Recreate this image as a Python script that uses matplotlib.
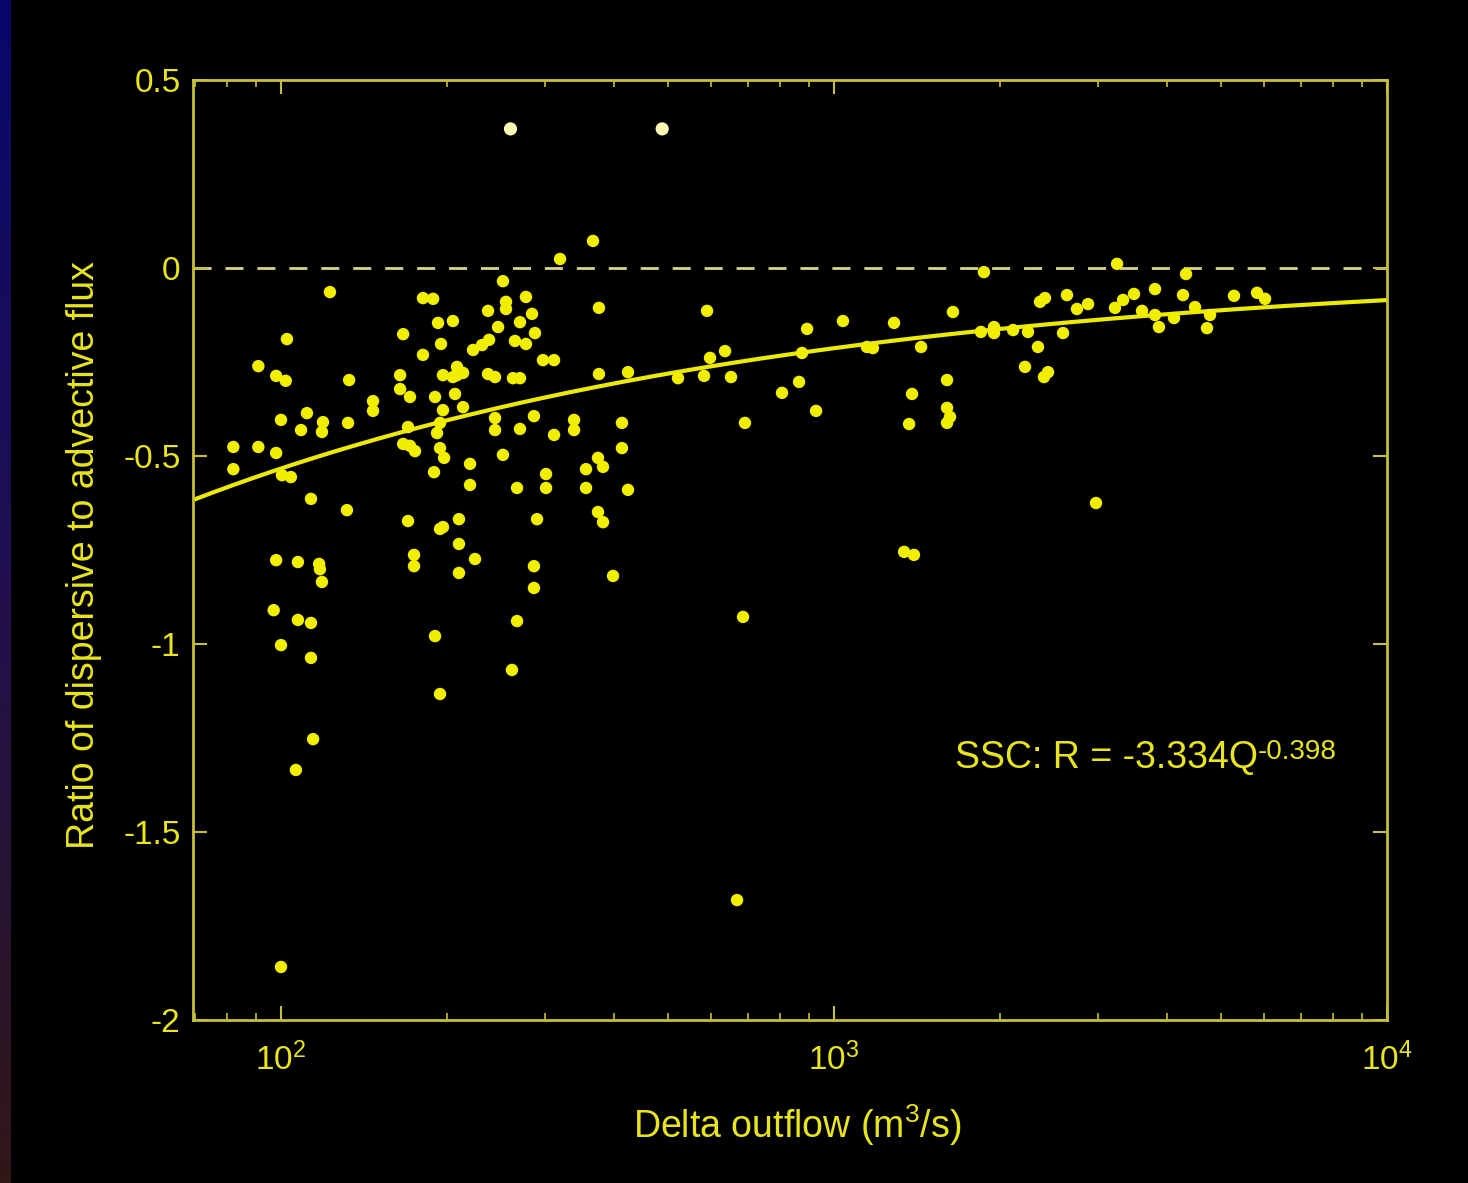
import numpy as np
import matplotlib.pyplot as plt
from matplotlib.colors import LinearSegmentedColormap
from matplotlib.ticker import FixedLocator, NullFormatter

plt.rcParams['font.family'] = ['Liberation Sans', 'DejaVu Sans']
plt.rcParams['mathtext.default'] = 'regular'

# Delta outflow (m3/s) and ratio of dispersive to advective flux
outflow = [
    82, 82, 91, 91, 98, 102, 102.5, 98, 100, 100.4, 104.2, 98, 97, 100, 100,
    107.3, 107.3, 106.4, 108.7, 111.4,
    113.3, 113.3, 113.3, 114.3, 117.2, 117.6, 118.6, 119.1, 118.6, 122.6,
    131.6, 132.8, 132.2,
    146.7, 146.7, 164.2, 164.2, 166.3, 166.3, 169.7, 171.1, 171.1, 174.7,
    169.7, 174.0, 174.0,
    180.6, 188.4, 180.6, 192.3, 194.7, 196.3, 189.9, 196.3, 193.9, 191.5,
    193.9, 197.2, 189.1, 196.3, 193.9, 189.9, 193.9, 204.6, 206.4, 208.1,
    208.1, 213.4, 204.6, 213.4, 209.8, 209.8, 209.8,
    224.3, 219.7, 219.7, 222.5, 231.0, 237.8, 236.8, 236.8, 243.8, 243.8,
    243.8, 246.9, 252.0, 252.0, 255.2, 255.2, 261.6, 264.9, 262.7, 270.5,
    267.2, 267.2, 270.5, 270.5,
    277.3, 277.3, 284.4, 287.9, 286.7, 290.4, 286.7, 286.7, 297.7, 311.7,
    301.5, 301.5, 311.7, 319.6,
    338.8, 338.8, 356.1, 356.1, 366.6, 375.8, 375.8, 374.3, 382.2, 374.3,
    382.2, 398.5, 413.6, 413.6, 424.1, 424.1,
    522.3, 582.1, 589.4, 596.8, 635.3, 651.3, 690.2, 684.7, 667.8,
    805.4, 864.6, 875.4, 893.9, 928, 1038, 1147, 1176, 1284, 1339, 1395,
    1367, 1384, 1437, 1601, 1601, 1621, 1601, 1641, 1867, 1844, 1947, 1947,
    2108, 2243, 2338, 2215, 2397, 2438, 2358, 2407, 2638, 2595, 2750, 2880,
    2977, 3222, 3332, 3487, 3250, 3606, 3806, 3869, 3806, 4120, 4277, 4331,
    4496, 4786, 4726, 5288, 5821, 6018,
]
ratio = [
    -0.476, -0.535, -0.261, -0.476, -0.287, -0.300, -0.189, -0.492, -0.404,
    -0.551, -0.556, -0.777, -0.910, -1.003, -1.859,
    -0.782, -0.936, -1.335, -0.431, -0.386,
    -0.614, -0.944, -1.037, -1.253, -0.787, -0.801, -0.835, -0.410, -0.436,
    -0.064, -0.644, -0.298, -0.412,
    -0.354, -0.380, -0.285, -0.322, -0.176, -0.468, -0.423, -0.343, -0.473,
    -0.487, -0.673, -0.763, -0.793,
    -0.080, -0.082, -0.231, -0.146, -0.202, -0.285, -0.343, -0.378, -0.412,
    -0.439, -0.479, -0.505, -0.543, -0.689, -0.694, -0.979, -1.133, -0.141,
    -0.335, -0.263, -0.285, -0.279, -0.290, -0.370, -0.668, -0.734, -0.811,
    -0.774, -0.521, -0.577, -0.218, -0.205, -0.191, -0.114, -0.282, -0.290,
    -0.399, -0.431, -0.157, -0.035, -0.497, -0.090, -0.109, -1.069, -0.194,
    -0.293, -0.293, -0.585, -0.939, -0.144, -0.428,
    -0.077, -0.202, -0.122, -0.173, -0.394, -0.668, -0.793, -0.851, -0.245,
    -0.245, -0.548, -0.585, -0.444, 0.024,
    -0.404, -0.431, -0.535, -0.585, 0.072, -0.106, -0.282, -0.505, -0.529,
    -0.649, -0.676, -0.819, -0.412, -0.479, -0.277, -0.590,
    -0.293, -0.287, -0.114, -0.239, -0.221, -0.290, -0.412, -0.928, -1.681,
    -0.332, -0.303, -0.226, -0.162, -0.380, -0.141, -0.210, -0.213, -0.146,
    -0.755, -0.763, -0.415, -0.335, -0.210, -0.298, -0.372, -0.396, -0.412,
    -0.117, -0.011, -0.170, -0.157, -0.173,
    -0.165, -0.170, -0.210, -0.263, -0.290, -0.277, -0.090, -0.080, -0.072,
    -0.173, -0.109, -0.096, -0.625, -0.106, -0.085, -0.069, 0.011, -0.114,
    -0.125, -0.157, -0.056, -0.133, -0.072, -0.016, -0.104, -0.125, -0.160,
    -0.074, -0.066, -0.082,
]

# two pale dots near the top of the frame
marker_outflow = [260, 489]
marker_ratio = [0.37, 0.37]

# fitted power law R = a * Q^b
fit_coef = -3.334
fit_exp = -0.398

yticks = [0.5, 0, -0.5, -1, -1.5, -2]
ytick_labels = ['0.5', '0', '-0.5', '-1', '-1.5', '-2']

frame_color = '#c6bf3a'
text_color = '#e8e41e'
dot_color = '#f2ee00'

W, H = 1468, 1183
fig = plt.figure(figsize=(W / 100, H / 100), dpi=100, facecolor='black')

# slide border: gradient strip on the left and a thin navy strip on top
strip_cmap = LinearSegmentedColormap.from_list(
    'strip', ['#08086c', '#22104f', '#301818'])
left = fig.add_axes([0, 0, 11 / W, 1])
left.imshow(np.linspace(0, 1, 256)[:, None], aspect='auto', cmap=strip_cmap)
left.axis('off')
top = fig.add_axes([0, 1 - 5 / H, 1, 5 / H])
top.set_facecolor('#08086c')
top.axis('off')

ax = fig.add_axes([193 / W, 1 - 1020 / H, (1387 - 193) / W, (1020 - 80) / H])
ax.set_facecolor('black')
ax.set_xscale('log')
xmin = 10 ** (2 - 88 / 553)
ax.set_xlim(xmin, 1e4)
ax.set_ylim(-2, 0.5)

ax.axhline(0, color='#d8d48a', linewidth=2, linestyle=(0, (6.5, 5)), zorder=1)

q = np.logspace(np.log10(xmin), 4, 300)
ax.plot(q, fit_coef * q ** fit_exp, color='#ecea00', linewidth=3, zorder=2)

ax.scatter(outflow, ratio, s=80, color=dot_color, edgecolors='none', zorder=3)
ax.scatter(marker_outflow, marker_ratio, s=90, color='#fdfbb4',
           edgecolors='none', zorder=3)

ax.yaxis.set_major_locator(FixedLocator(yticks))
ax.set_yticklabels(ytick_labels)
ax.xaxis.set_minor_formatter(NullFormatter())

for spine in ax.spines.values():
    spine.set_color(frame_color)
    spine.set_linewidth(2)

ax.tick_params(which='both', direction='in', top=True, right=True,
               color=frame_color, labelcolor=text_color)
ax.tick_params(which='major', length=10, width=1.5, labelsize=24)
ax.tick_params(which='minor', length=5, width=1.2)
ax.tick_params(axis='y', pad=9)
ax.tick_params(axis='x', pad=16)

ax.set_xlabel('Delta outflow (m$^3$/s)', fontsize=27, color=text_color)
ax.xaxis.set_label_coords(0.506, -0.088)
ax.set_ylabel('Ratio of dispersive to advective flux', fontsize=27,
              color=text_color)
ax.yaxis.set_label_coords(-0.076, 0.495)

# fit equation, exponent drawn as a raised smaller text with a plain hyphen
eq = ax.text(0.638, 0.268, 'SSC: R = -3.334Q', transform=ax.transAxes,
             fontsize=27, color=text_color, va='baseline', ha='left')
ax.annotate('-0.398', xy=(1, 0), xycoords=eq, xytext=(0, 12),
            textcoords='offset points', fontsize=20, color=text_color,
            va='baseline', ha='left')

fig.savefig('out.png', dpi=100, facecolor='black')
